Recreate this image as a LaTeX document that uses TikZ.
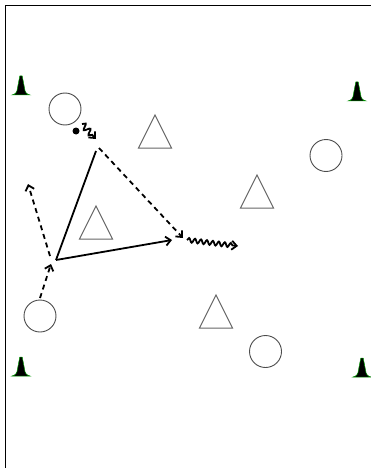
\documentclass[tikz,border=0pt]{standalone}
\usetikzlibrary{arrows.meta,decorations.pathmorphing}
\begin{document}
\begin{tikzpicture}[x=1pt,y=-1pt,
  tip/.style={-{Straight Barb[length=5pt,width=9pt,line width=1.8pt]}},
  run/.style={tip,line width=1.8pt,dash pattern=on 5pt off 4pt},
  pass/.style={tip,line width=1.8pt},
  dribble/.style={tip,line width=1.8pt,decorate,decoration={snake,amplitude=2.2pt,segment length=6pt,post length=5pt}},
  player/.style={draw=black!70,line width=0.9pt,circle,minimum size=32pt,inner sep=0pt},
  opp/.style={draw=black!60,line width=1pt},
  conefill/.style={fill=black,draw=green!60!black,line width=0.5pt}]
\useasboundingbox (0,0) rectangle (371,468);
% frame
\draw[line width=1.8pt] (5.5,468) -- (5.5,5.5) -- (371,5.5);
% cones
\foreach \cx/\cy in {21/95, 357/101, 21/376, 362/377}{
  \path[conefill] (\cx-9,\cy) .. controls (\cx-5,\cy-1) and (\cx-4,\cy-3) .. (\cx-3.5,\cy-7)
     -- (\cx-1.2,\cy-19) -- (\cx+1.2,\cy-19) -- (\cx+3.5,\cy-7)
     .. controls (\cx+4,\cy-3) and (\cx+5,\cy-1) .. (\cx+9,\cy) -- cycle;
}
% players (circles)
\node[player] (p1) at (65,109) {};
\node[player] (p2) at (326,155.5) {};
\node[player] (p3) at (40,316) {};
\node[player] (p4) at (265.5,351.5) {};
% opponents (triangles)
\foreach \ax/\ay/\n in {155/115/o1, 257/175/o2, 96/206/o3, 216/295/o4}{
  \draw[opp] (\ax,\ay) -- (\ax+16.5,\ay+33) -- (\ax-16.5,\ay+33) -- cycle;
}
% ball
\node[circle,fill=black,minimum size=7pt,inner sep=0pt] (ball) at (76,131) {};
% coordinates
\coordinate (a) at (96,151);
\coordinate (b) at (56,260);
\coordinate (c) at (172,240);
\coordinate (d) at (183,238);
\coordinate (e) at (187,240);
\coordinate (f) at (238,246);
\coordinate (g) at (82,124);
\coordinate (h) at (96,139);
\coordinate (i) at (40,298);
\coordinate (j) at (51,264);
\coordinate (k) at (50,256);
\coordinate (l) at (28,184);
\coordinate (m) at (99,148);
% lines
\draw[line width=1.8pt] (a) -- (b);
\draw[pass] (b) -- (c);
\draw[run] (m) -- (d);
\draw[dribble] (e) -- (f);
\draw[dribble,decoration={snake,amplitude=3pt,segment length=7pt,post length=5pt}] (g) -- (h);
\draw[run] (i) -- (j);
\draw[run] (k) -- (l);
\end{tikzpicture}
\end{document}
